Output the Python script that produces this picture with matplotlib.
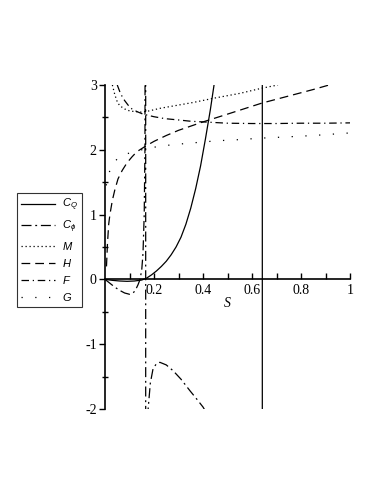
import numpy as np
import matplotlib
matplotlib.use("Agg")
import matplotlib.pyplot as plt

plt.rcParams['axes.unicode_minus'] = False
plt.rcParams['mathtext.fontset'] = 'custom'
plt.rcParams['mathtext.it'] = 'Liberation Sans:italic'
plt.rcParams['mathtext.rm'] = 'Liberation Sans'

nan = np.nan
# C_Q (solid) with pole at S=0.642
cq_x = [0, 0.03, 0.06, 0.09, 0.12, 0.15, 0.17, 0.19, 0.21, 0.23, 0.25, 0.27, 0.29, 0.31,
        0.33, 0.35, 0.37, 0.39, 0.41, 0.43, 0.445, nan, 0.642, 0.642]
cq_y = [0, -0.015, -0.025, -0.03, -0.025, -0.01, 0.02, 0.07, 0.13, 0.2, 0.28, 0.38, 0.5, 0.65,
        0.85, 1.1, 1.4, 1.75, 2.17, 2.62, 3.0, nan, 10, -10]
# C_phi, pole at S=0.166
cp_x = [0, 0.02, 0.04, 0.06, 0.08, 0.10, 0.115, 0.125, 0.135, 0.143, 0.15, 0.155, 0.16, 0.163, 0.166,
        0.166, 0.172, 0.176, 0.185, 0.196, 0.21, 0.224, 0.25, 0.278, 0.31, 0.347, 0.375, 0.40, 0.42]
cp_y = [0, -0.06, -0.12, -0.17, -0.21, -0.23, -0.21, -0.16, -0.08, 0.0, 0.15, 0.4, 1.0, 2.0, 10,
        -10, -4, -2.0, -1.6, -1.38, -1.3, -1.28, -1.32, -1.41, -1.54, -1.72, -1.85, -1.97, -2.1]
m_x = [0.03, 0.04, 0.05, 0.06, 0.08, 0.1, 0.12, 0.15, 0.18, 0.225, 0.3, 0.36, 0.45, 0.55, 0.64, 0.706]
m_y = [3.0, 2.85, 2.74, 2.68, 2.63, 2.6, 2.59, 2.58, 2.6, 2.64, 2.69, 2.73, 2.8, 2.87, 2.95, 3.0]
h_x = [0.006, 0.01, 0.015, 0.02, 0.03, 0.04, 0.053, 0.07, 0.09, 0.11, 0.13, 0.163, 0.2, 0.25,
       0.3, 0.4, 0.5, 0.64, 0.75, 0.85, 0.915]
h_y = [0.2, 0.55, 0.85, 1.0, 1.22, 1.38, 1.55, 1.68, 1.8, 1.89, 1.97, 2.05, 2.13, 2.22,
       2.3, 2.43, 2.55, 2.72, 2.83, 2.93, 3.0]
f_x = [0.05, 0.06, 0.07, 0.08, 0.094, 0.11, 0.13, 0.155, 0.2, 0.245, 0.3, 0.35, 0.4, 0.45,
       0.5, 0.6, 0.7, 0.8, 0.9, 1.0]
f_y = [3.0, 2.9, 2.82, 2.76, 2.69, 2.63, 2.59, 2.55, 2.51, 2.48, 2.46, 2.44, 2.43, 2.42,
       2.41, 2.405, 2.405, 2.41, 2.41, 2.415]
g_x = [0.005, 0.017, 0.03, 0.05, 0.075, 0.1, 0.15, 0.215, 0.28, 0.34, 0.4, 0.46, 0.52, 0.64,
       0.75, 0.85, 1.0]
g_y = [1.45, 1.65, 1.77, 1.86, 1.92, 1.95, 2.0, 2.05, 2.08, 2.1, 2.12, 2.14, 2.15, 2.18,
       2.2, 2.22, 2.26]

xticks = [0.2, 0.4, 0.6, 0.8, 1]
xticklabels = ['0.2', '0.4', '0.6', '0.8', '1']
yticks = [-2, -1, 0, 1, 2, 3]

fig = plt.figure(figsize=(3.82, 4.94), dpi=100)
ax = fig.add_axes([0.2749, 0.1721, 0.6414, 0.6559])
lw = 0.9
ax.plot(cq_x, cq_y, 'k-', lw=lw, label=r'$C_Q$')
ax.plot(cp_x, cp_y, color='k', lw=lw, ls=(0, (8, 3, 1.5, 3)), label=r'$C_{\phi}$')
ax.plot(m_x, m_y, color='k', lw=lw, ls=(0, (1, 2.2)), label=r'$M$')
ax.plot(h_x, h_y, color='k', lw=lw, ls=(0, (7, 4)), label=r'$H$')
ax.plot(f_x, f_y, color='k', lw=lw, ls=(0, (6, 3, 1, 3)), label=r'$F$')
ax.plot(g_x, g_y, color='k', lw=lw, ls=(0, (1, 10)), label=r'$G$')

ax.set_xlim(0, 1)
ax.set_ylim(-2, 3)
for s in ['top', 'right']:
    ax.spines[s].set_visible(False)
ax.spines['left'].set_position(('data', 0))
ax.spines['bottom'].set_position(('data', 0))
ax.spines['left'].set_linewidth(1.2)
ax.spines['bottom'].set_linewidth(1.2)
ax.set_xticks(xticks)
ax.set_xticklabels(xticklabels)
ax.set_xticks(np.arange(0.1, 1.0, 0.2), minor=True)
ax.set_yticks(yticks)
ax.set_yticks(np.arange(-1.5, 3, 1.0), minor=True)
ax.tick_params(axis='x', which='both', direction='in', length=4, width=1, pad=3)
ax.tick_params(axis='y', which='both', direction='out', length=4, width=1, pad=2)
ax.tick_params(axis='y', which='minor', direction='inout', length=4)
for lab in ax.get_xticklabels() + ax.get_yticklabels():
    lab.set_fontfamily('Liberation Serif')
    lab.set_fontsize(10)
ax.text(0.5, -0.37, 'S', fontfamily='Liberation Serif', style='italic', fontsize=10, ha='center', va='center')
ax.patch.set_visible(False)

leg = fig.legend(loc='upper left', bbox_to_anchor=(17 / 382, 1 - 193 / 494), frameon=True,
                 fancybox=False, edgecolor='k', fontsize=8, handlelength=3.1, handletextpad=0.6,
                 labelspacing=0.45, borderpad=0.35, borderaxespad=0)
leg.get_frame().set_linewidth(0.8)

fig.savefig('out.png', dpi=100)
